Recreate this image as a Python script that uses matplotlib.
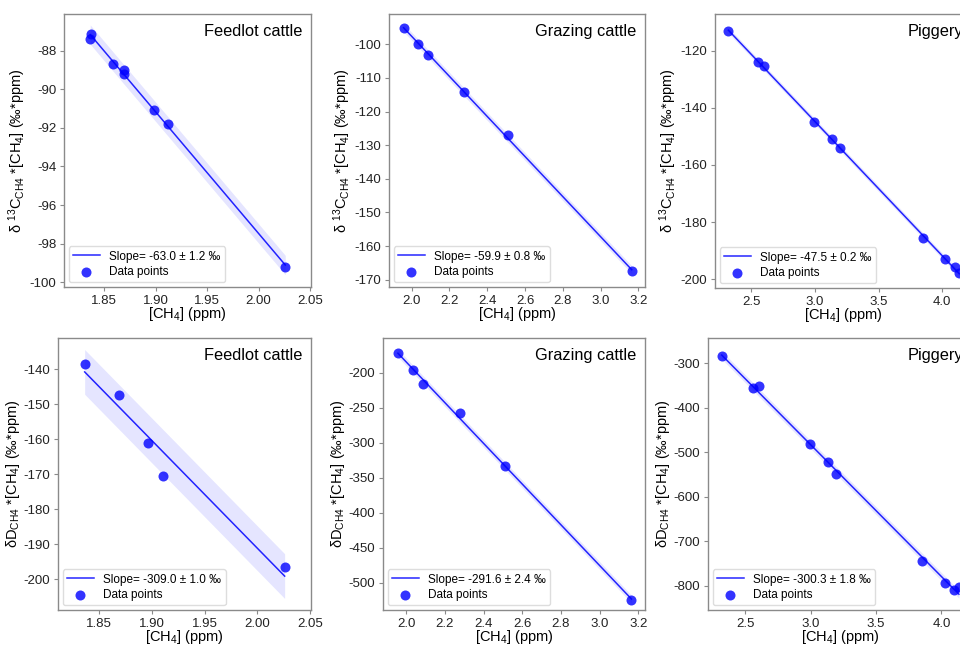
import numpy as np
import matplotlib
matplotlib.use("Agg")
import matplotlib.pyplot as plt

plt.rcParams['font.family'] = ['Liberation Sans', 'DejaVu Sans']
plt.rcParams['mathtext.fontset'] = 'custom'
plt.rcParams['mathtext.rm'] = 'Liberation Sans'
plt.rcParams['mathtext.it'] = 'Liberation Sans'
plt.rcParams['mathtext.default'] = 'regular'

# ---------------- data ----------------
titles = ["Feedlot cattle", "Grazing cattle", "Piggery"]

feedlot_x_c = [1.837, 1.8365, 1.8585, 1.8693, 1.8696, 1.898, 1.912, 2.026]
feedlot_y_c = [-87.16, -87.42, -88.70, -89.00, -89.20, -91.06, -91.78, -99.19]
feedlot_x_d = [1.8363, 1.869, 1.8968, 1.911, 2.026]
feedlot_y_d = [-138.4, -147.2, -160.9, -170.6, -196.5]

grazing_x = [1.957, 2.036, 2.088, 2.279, 2.511, 3.165]
grazing_y_c = [-95.2, -99.8, -103.2, -114.3, -127.0, -167.5]
grazing_y_d = [-171.7, -196.7, -216.5, -257.0, -333.3, -525.0]

piggery_x = [2.318, 2.555, 2.600, 2.995, 3.134, 3.195, 3.852, 4.024, 4.097, 4.134]
piggery_y_c = [-113.0, -124.1, -125.4, -145.1, -151.1, -154.0, -185.7, -193.1, -195.9, -197.7]
piggery_y_d = [-284.4, -355.8, -352.1, -482.3, -522.5, -547.8, -744.2, -792.6, -809.7, -802.2]

slope_labels_c = ["Slope= -63.0 ± 1.2 ‰", "Slope= -59.9 ± 0.8 ‰", "Slope= -47.5 ± 0.2 ‰"]
slope_labels_d = ["Slope= -309.0 ± 1.0 ‰", "Slope= -291.6 ± 2.4 ‰", "Slope= -300.3 ± 1.8 ‰"]

band_halfwidth_c = [0.5, 1.2, 1.0]
band_halfwidth_d = [6.4, 5.6, 9.0]

xlims = [(1.811, 2.051), (1.880, 3.235), (2.213, 4.234)]
ylims_c = [(-100.24, -86.11), (-172.2, -90.96), (-203.1, -107.2)]
ylims_d = [(-208.8, -131.0), (-539.1, -150.5), (-854.3, -243.5)]

xticks = [[1.85, 1.90, 1.95, 2.00, 2.05],
          [2.0, 2.2, 2.4, 2.6, 2.8, 3.0, 3.2],
          [2.5, 3.0, 3.5, 4.0]]
yticks_c = [[-88, -90, -92, -94, -96, -98, -100],
            [-100, -110, -120, -130, -140, -150, -160, -170],
            [-120, -140, -160, -180, -200]]
yticks_d = [[-140, -150, -160, -170, -180, -190, -200],
            [-200, -250, -300, -350, -400, -450, -500],
            [-300, -400, -500, -600, -700, -800]]

ylabel_c = r"δ $^{13}$C$_{CH4}$ *[CH$_4$] (‰*ppm)"
ylabel_d = r"δD$_{CH4}$ *[CH$_4$] (‰*ppm)"
xlabel = r"[CH$_4$] (ppm)"

# ---------------- layout (pixel boxes: left, right, top, bottom) ----------------
W, H = 960, 646
boxes = [
    [(64, 311, 14, 287), (389, 645, 14, 287), (715, 972, 14, 288)],
    [(58, 311, 338, 610), (383, 645, 338, 610), (708, 972, 338, 610)],
]

fig = plt.figure(figsize=(W / 100, H / 100), dpi=100)

rows = [
    ([feedlot_x_c, grazing_x, piggery_x], [feedlot_y_c, grazing_y_c, piggery_y_c],
     slope_labels_c, band_halfwidth_c, ylims_c, yticks_c, ylabel_c),
    ([feedlot_x_d, grazing_x, piggery_x], [feedlot_y_d, grazing_y_d, piggery_y_d],
     slope_labels_d, band_halfwidth_d, ylims_d, yticks_d, ylabel_d),
]

spine_col = "#8a8a8a"
for r, (xs_list, ys_list, labels, hws, ylims, yts, ylab) in enumerate(rows):
    for c in range(3):
        l, rr, t, b = boxes[r][c]
        ax = fig.add_axes([l / W, 1 - b / H, (rr - l) / W, (b - t) / H])
        x = np.array(xs_list[c])
        y = np.array(ys_list[c])
        k, q = np.polyfit(x, y, 1)
        xl = np.linspace(x.min(), x.max(), 100)
        yl = k * xl + q
        ax.fill_between(xl, yl - hws[c], yl + hws[c], color="blue", alpha=0.1, linewidth=0)
        ax.plot(xl, yl, color="blue", alpha=0.85, lw=1.1, label=labels[c])
        ax.scatter(x, y, s=52, color="blue", alpha=0.8, linewidths=0, label="Data points", zorder=3)
        ax.set_xlim(*xlims[c])
        ax.set_ylim(*ylims[c])
        ax.set_xticks(xticks[c])
        ax.set_yticks(yts[c])
        ax.xaxis.set_major_formatter(matplotlib.ticker.FormatStrFormatter(
            "%.2f" if c == 0 else "%.1f"))
        ax.yaxis.set_major_formatter(matplotlib.ticker.FormatStrFormatter("%d"))
        ax.tick_params(labelsize=9.5, colors="#222222", length=3, width=0.8, pad=2.5)
        ax.tick_params(color=spine_col)
        for s in ax.spines.values():
            s.set_color(spine_col)
            s.set_linewidth(1.0)
        ax.set_xlabel(xlabel, fontsize=10.5, labelpad=-1)
        ax.set_ylabel(ylab, fontsize=10.5, labelpad=1)
        ax.text(0.965, 0.965, titles[c], transform=ax.transAxes, ha="right", va="top",
                fontsize=11.8)
        ax.legend(loc="lower left", fontsize=8.5, framealpha=1, edgecolor="#dddddd",
                  borderaxespad=0.4, handlelength=2.3, labelspacing=0.3, borderpad=0.35)

fig.savefig("out.png", dpi=100)
